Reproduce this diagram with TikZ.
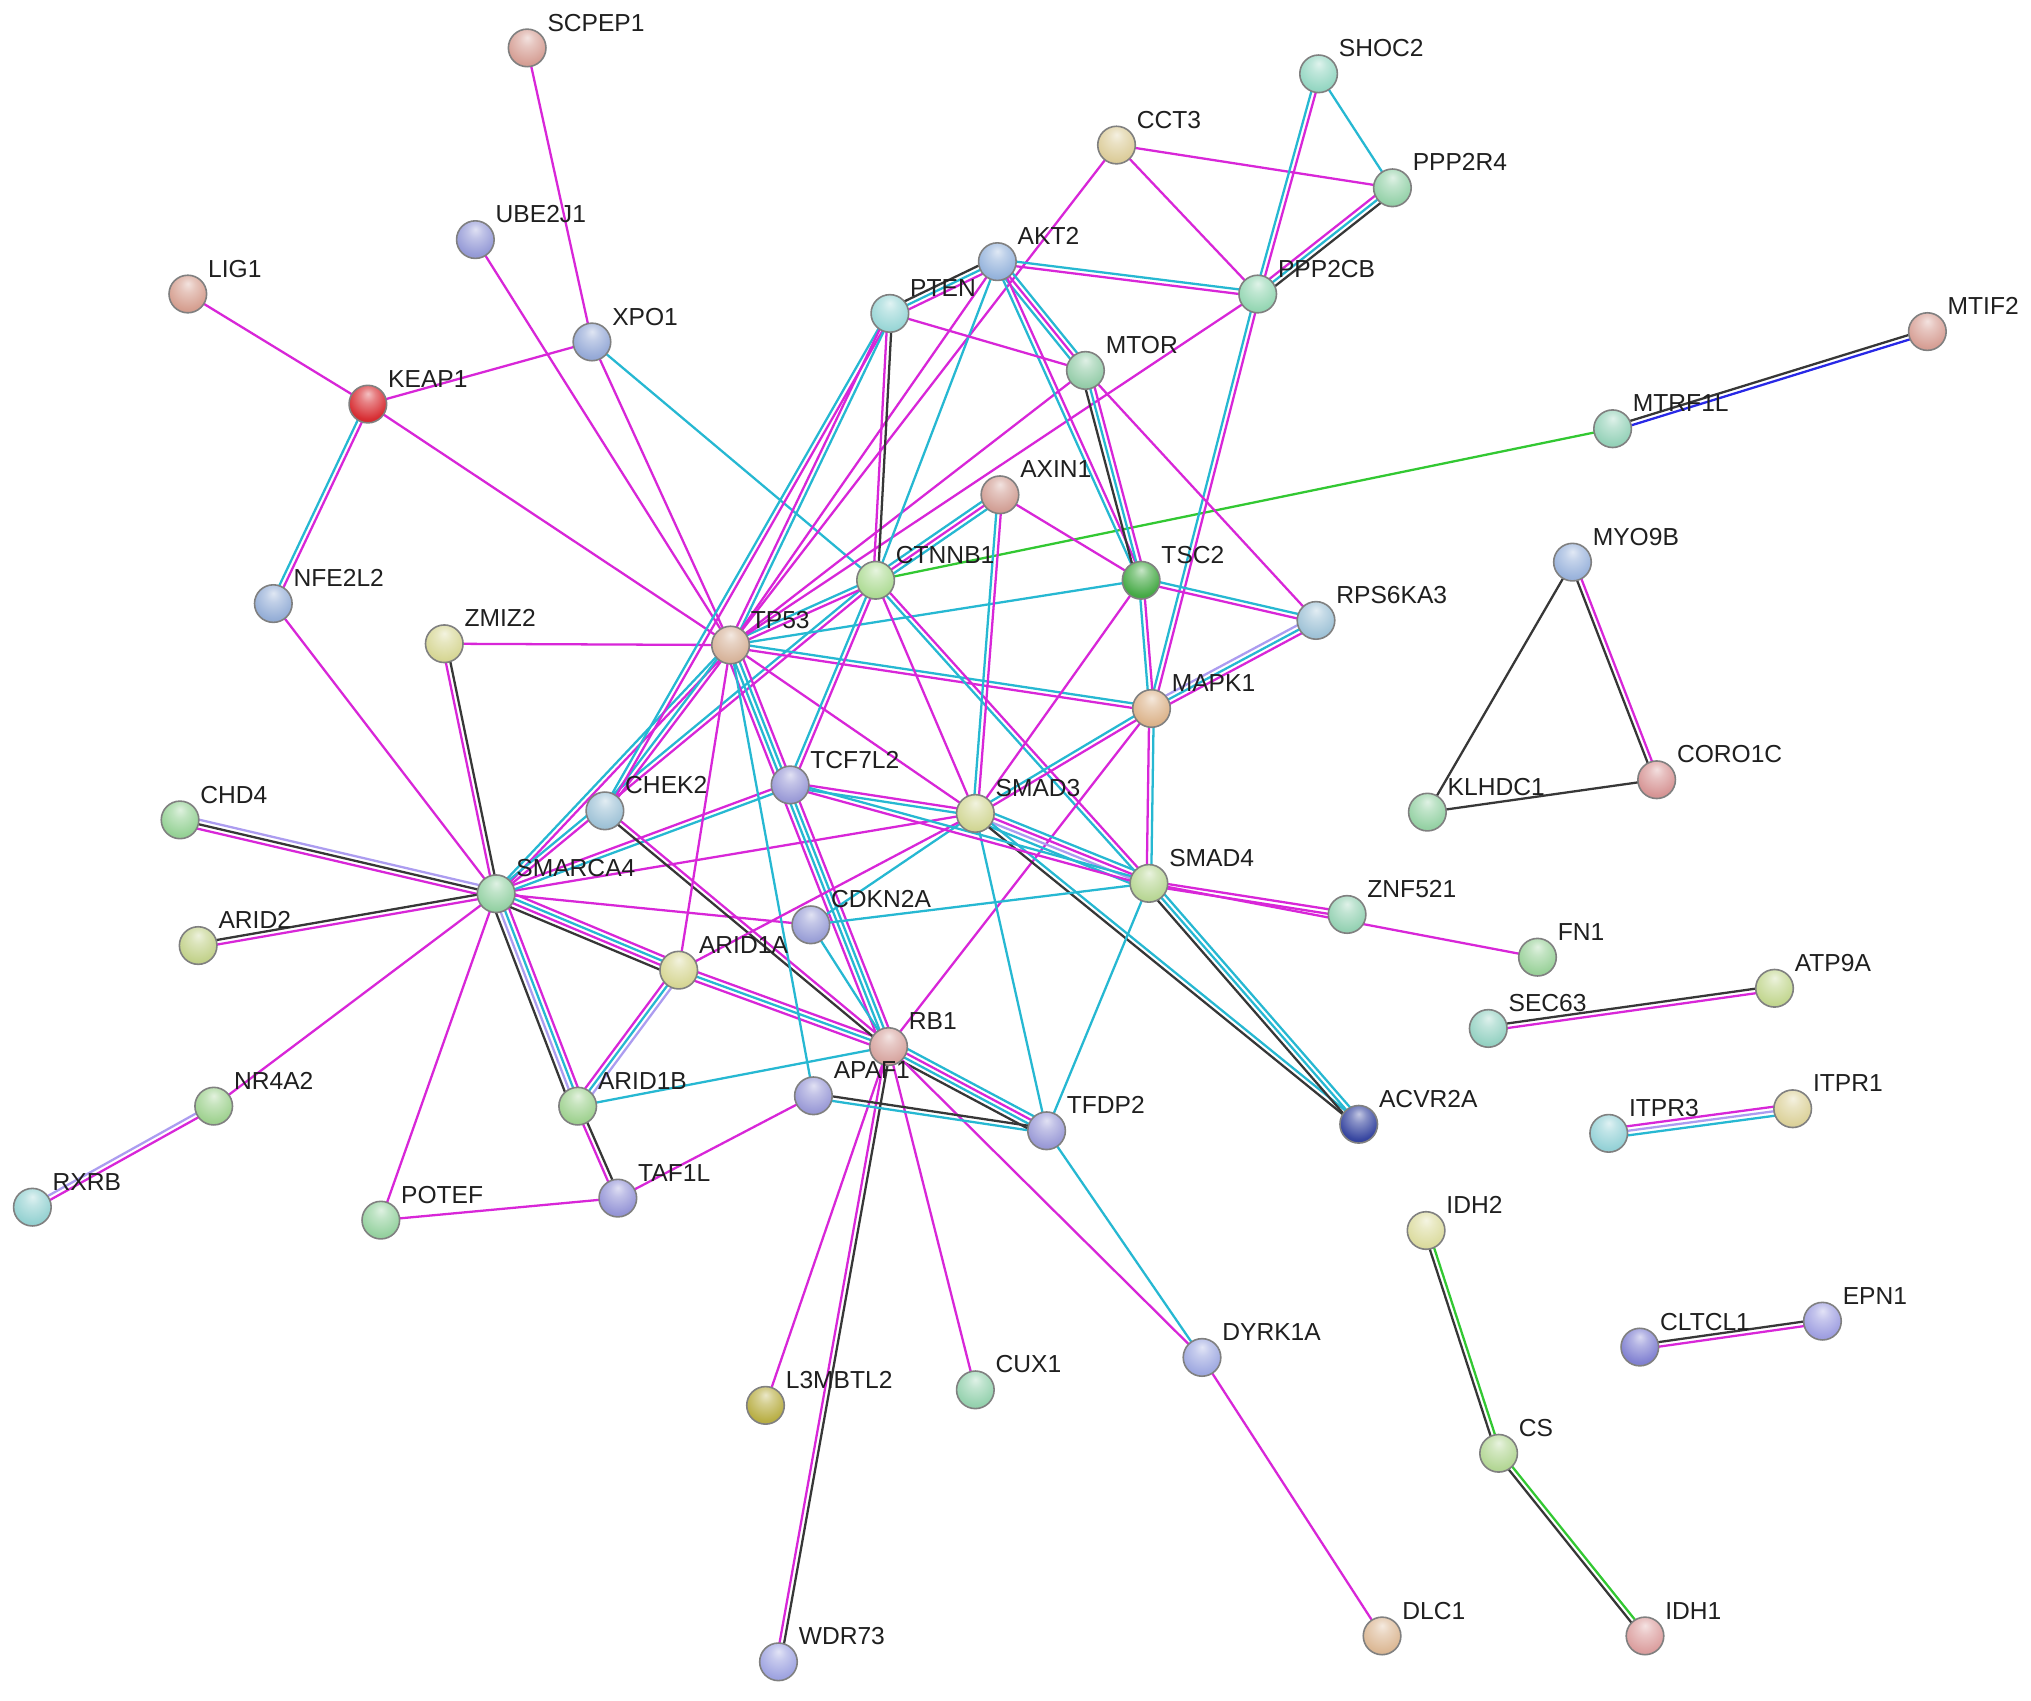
\documentclass[tikz,border=0pt]{standalone}
\usepackage{fontspec}
\setmainfont{Liberation Sans}
\usetikzlibrary{calc,backgrounds}

\definecolor{mg}{RGB}{216,38,216}
\definecolor{cy}{RGB}{38,184,210}
\definecolor{bk}{RGB}{55,55,55}
\definecolor{lil}{RGB}{172,156,240}
\definecolor{gr}{RGB}{50,200,50}
\definecolor{bl}{RGB}{40,40,230}
\definecolor{ballc}{RGB}{200,200,200}

\pgfdeclareradialshading[ballc]{gball}{\pgfpoint{0bp}{14bp}}{%
 color(0bp)=(ballc!30!white); color(10bp)=(ballc!60!white); color(28bp)=(ballc); color(46bp)=(ballc!86!black); color(64bp)=(ballc!70!black)}

\tikzset{
  gene/.style={circle, minimum size=0.29cm, inner sep=0pt, draw=black!50, line width=0.35pt, shade, shading=gball},
  bc/.code={\definecolor{ballc}{RGB}{#1}},
  lbl/.style={anchor=base west, font=\fontsize{5.4}{6}\selectfont, text=black!88, inner sep=0pt},
  ln/.style={line width=0.5pt}
}

\newcommand\gene[4]{%
  \node[gene, bc={#4}] (#1) at (#2,#3) {};
  \node[lbl] (#1-t) at ($(#1)+(15,-13)$) {#1};}

\newcommand\ed[3]{%
  \foreach \cc [count=\ii] in {#3} {\xdef\nn{\ii}}%
  \foreach \cc [count=\ii] in {#3} {%
    \pgfmathsetmacro\off{(\ii-(\nn+1)/2)*1.0}%
    \draw[ln,\cc] ($(#1)!\off pt!90:(#2)$) -- ($(#2)!\off pt!-90:(#1)$);}}

\begin{document}
\begin{tikzpicture}[x=0.01cm,y=-0.01cm]
\useasboundingbox (0,0) rectangle (1568,1313);

\gene{SCPEP1}{407}{37}{214,160,150}
\gene{UBE2J1}{367}{185}{150,155,215}
\gene{LIG1}{145}{227}{214,160,145}
\gene{XPO1}{457}{264}{150,170,215}
\gene{KEAP1}{284}{312}{215,45,50}
\gene{NFE2L2}{211}{466}{150,175,215}
\gene{ZMIZ2}{343}{497}{215,215,150}
\gene{TP53}{564}{498}{215,180,155}
\gene{CHD4}{139}{633}{150,210,150}
\gene{SMARCA4}{383}{690}{150,210,165}
\gene{ARID2}{153}{730}{195,210,140}
\gene{CHEK2}{467}{626}{160,195,215}
\gene{TCF7L2}{610}{606}{155,155,215}
\gene{CDKN2A}{626}{714}{155,160,215}
\gene{ARID1A}{524}{749}{215,215,150}
\gene{RB1}{686}{808}{215,165,160}
\gene{APAF1}{628}{846}{155,155,215}
\gene{ARID1B}{446}{854}{160,210,145}
\gene{NR4A2}{165}{854}{160,210,145}
\gene{RXRB}{25}{932}{150,210,210}
\gene{POTEF}{294}{942}{150,210,160}
\gene{TAF1L}{477}{925}{150,150,215}
\gene{TFDP2}{808}{873}{155,155,215}
\gene{L3MBTL2}{591}{1085}{185,175,70}
\gene{CUX1}{753}{1073}{150,210,175}
\gene{DYRK1A}{928}{1048}{160,170,225}
\gene{WDR73}{601}{1283}{160,165,225}
\gene{DLC1}{1067}{1263}{220,185,150}
\gene{SMAD3}{753}{628}{210,215,150}
\gene{SMAD4}{887}{682}{185,215,150}
\gene{MAPK1}{889}{547}{220,180,140}
\gene{TSC2}{881}{448}{70,170,70}
\gene{RPS6KA3}{1016}{479}{160,195,215}
\gene{CTNNB1}{676}{448}{175,220,150}
\gene{AXIN1}{772}{382}{210,160,150}
\gene{MTOR}{838}{286}{150,205,170}
\gene{PTEN}{687}{242}{155,215,215}
\gene{AKT2}{770}{202}{150,180,220}
\gene{CCT3}{862}{112}{220,205,155}
\gene{PPP2CB}{971}{227}{150,215,180}
\gene{PPP2R4}{1075}{145}{150,210,170}
\gene{SHOC2}{1018}{57}{150,215,195}
\gene{MTRF1L}{1245}{331}{150,210,185}
\gene{MTIF2}{1488}{256}{215,160,150}
\gene{MYO9B}{1214}{434}{155,180,220}
\gene{CORO1C}{1279}{602}{215,150,150}
\gene{KLHDC1}{1102}{627}{150,210,165}
\gene{ZNF521}{1040}{706}{150,210,180}
\gene{FN1}{1187}{739}{155,210,155}
\gene{ATP9A}{1370}{763}{195,215,145}
\gene{SEC63}{1149}{794}{150,210,195}
\gene{ITPR1}{1384}{856}{220,210,155}
\gene{ITPR3}{1242}{875}{150,210,215}
\gene{ACVR2A}{1049}{868}{55,70,160}
\gene{IDH2}{1101}{950}{220,220,160}
\gene{CS}{1157}{1122}{180,215,150}
\gene{IDH1}{1270}{1263}{220,160,160}
\gene{EPN1}{1407}{1020}{160,160,225}
\gene{CLTCL1}{1266}{1040}{130,130,210}

\begin{scope}[on background layer]
\fill[white] (0,0) rectangle (1568,1313);
\ed{SCPEP1}{XPO1}{mg}
\ed{UBE2J1}{TP53}{mg}
\ed{LIG1}{KEAP1}{mg}
\ed{KEAP1}{XPO1}{mg}
\ed{KEAP1}{NFE2L2}{cy,mg}
\ed{KEAP1}{TP53}{mg}
\ed{XPO1}{TP53}{mg}
\ed{XPO1}{CTNNB1}{cy}
\ed{NFE2L2}{SMARCA4}{mg}
\ed{ZMIZ2}{TP53}{mg}
\ed{ZMIZ2}{SMARCA4}{mg,bk}
\ed{CHD4}{SMARCA4}{mg,bk,lil}
\ed{ARID2}{SMARCA4}{mg,bk}
\ed{NR4A2}{SMARCA4}{mg}
\ed{RXRB}{NR4A2}{mg,lil}
\ed{POTEF}{SMARCA4}{mg}
\ed{POTEF}{TAF1L}{mg}
\ed{ARID1B}{TAF1L}{mg,bk}
\ed{TAF1L}{APAF1}{mg}
\ed{SMARCA4}{ARID1B}{bk,lil,cy,mg}
\ed{SMARCA4}{ARID1A}{bk,mg,cy,mg}
\ed{ARID1A}{RB1}{mg,cy,mg}
\ed{ARID1A}{ARID1B}{mg,cy,lil}
\ed{SMARCA4}{CDKN2A}{mg}
\ed{SMARCA4}{SMAD3}{mg}
\ed{SMARCA4}{TCF7L2}{cy,mg}
\ed{SMARCA4}{TP53}{mg,cy}
\ed{SMARCA4}{CTNNB1}{mg,cy}
\ed{CHEK2}{TP53}{mg,cy}
\ed{CHEK2}{RB1}{bk,mg}
\ed{PTEN}{CHEK2}{cy,mg}
\ed{TP53}{RB1}{mg,cy,cy,mg}
\ed{TP53}{ARID1A}{mg}
\ed{TP53}{APAF1}{cy}
\ed{TP53}{SMAD3}{mg}
\ed{TP53}{MAPK1}{mg,cy}
\ed{TP53}{TSC2}{cy}
\ed{TP53}{CTNNB1}{mg,cy}
\ed{TP53}{PTEN}{cy,mg}
\ed{TP53}{AKT2}{mg}
\ed{TP53}{MTOR}{mg}
\ed{TP53}{CCT3}{mg}
\ed{TP53}{PPP2CB}{mg}
\ed{CTNNB1}{PTEN}{bk,mg}
\ed{CTNNB1}{AXIN1}{cy,mg,cy}
\ed{CTNNB1}{TCF7L2}{cy,mg}
\ed{CTNNB1}{SMAD3}{mg}
\ed{CTNNB1}{SMAD4}{cy,mg}
\ed{CTNNB1}{MTRF1L}{gr}
\ed{CTNNB1}{AKT2}{cy}
\ed{AKT2}{PTEN}{bk,cy,mg}
\ed{AKT2}{PPP2CB}{mg,cy}
\ed{AKT2}{MTOR}{cy,mg,cy}
\ed{AKT2}{TSC2}{cy,mg}
\ed{CCT3}{PPP2CB}{mg}
\ed{CCT3}{PPP2R4}{mg}
\ed{PPP2CB}{PPP2R4}{bk,cy,mg}
\ed{SHOC2}{PPP2R4}{cy}
\ed{SHOC2}{PPP2CB}{cy,mg}
\ed{PPP2CB}{MAPK1}{cy,mg}
\ed{MTOR}{TSC2}{bk,cy,mg}
\ed{MTOR}{RPS6KA3}{mg}
\ed{MTOR}{PTEN}{mg}
\ed{AXIN1}{TSC2}{mg}
\ed{AXIN1}{SMAD3}{cy,mg}
\ed{TSC2}{RPS6KA3}{mg,cy}
\ed{TSC2}{MAPK1}{cy,mg}
\ed{TSC2}{SMAD3}{mg}
\ed{RPS6KA3}{MAPK1}{lil,cy,mg}
\ed{MAPK1}{SMAD4}{mg,cy}
\ed{MAPK1}{SMAD3}{cy,mg}
\ed{MAPK1}{RB1}{mg}
\ed{SMAD3}{SMAD4}{cy,lil,mg,cy}
\ed{SMAD3}{ACVR2A}{bk,cy}
\ed{SMAD3}{TFDP2}{cy}
\ed{SMAD3}{CDKN2A}{cy}
\ed{SMAD3}{TCF7L2}{mg,cy}
\ed{SMAD3}{ARID1A}{mg}
\ed{SMAD4}{ACVR2A}{bk,cy,cy}
\ed{SMAD4}{TFDP2}{cy}
\ed{SMAD4}{CDKN2A}{cy}
\ed{SMAD4}{TCF7L2}{cy,mg}
\ed{SMAD4}{ZNF521}{mg,mg}
\ed{SMAD4}{FN1}{mg}
\ed{CDKN2A}{RB1}{cy}
\ed{RB1}{TFDP2}{bk,cy,mg,cy}
\ed{RB1}{WDR73}{mg,bk}
\ed{RB1}{L3MBTL2}{mg}
\ed{RB1}{CUX1}{mg}
\ed{RB1}{DYRK1A}{mg}
\ed{RB1}{ARID1B}{cy}
\ed{APAF1}{TFDP2}{cy,bk}
\ed{TFDP2}{DYRK1A}{cy}
\ed{DYRK1A}{DLC1}{mg}
\ed{MYO9B}{KLHDC1}{bk}
\ed{MYO9B}{CORO1C}{bk,mg}
\ed{KLHDC1}{CORO1C}{bk}
\ed{MTRF1L}{MTIF2}{bl,bk}
\ed{SEC63}{ATP9A}{mg,bk}
\ed{ITPR3}{ITPR1}{cy,lil,mg}
\ed{IDH2}{CS}{bk,gr}
\ed{CS}{IDH1}{bk,gr}
\ed{CLTCL1}{EPN1}{mg,bk}
\end{scope}
\end{tikzpicture}
\end{document}
